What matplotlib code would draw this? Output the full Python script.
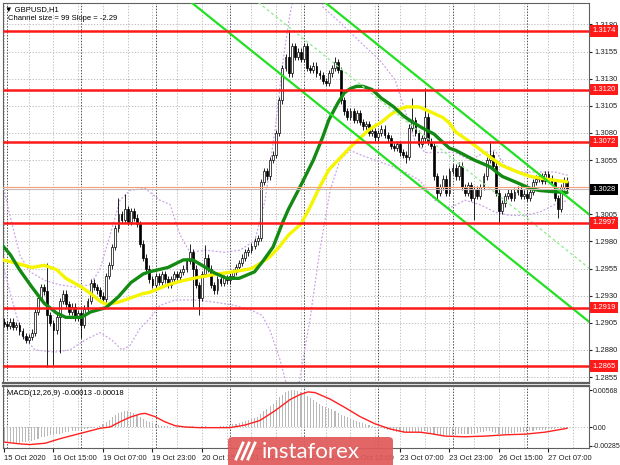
import numpy as np
import matplotlib.pyplot as plt
import matplotlib.transforms as mtransforms
from matplotlib.patches import FancyBboxPatch

plt.rcParams['font.family'] = ['Liberation Sans', 'DejaVu Sans']

# GBPUSD H1 closes, first bar 15 Oct 23:00, last bar 27 Oct 13:00
closes = [
    1.2904, 1.2902, 1.2906, 1.2901, 1.2903, 1.2897, 1.2893, 1.2889, 1.2892, 1.2896,
    1.2915, 1.2928, 1.2938, 1.2934, 1.2912, 1.2905, 1.2898, 1.2910, 1.2925, 1.2932,
    1.2922, 1.2915, 1.2920, 1.2910, 1.2914, 1.2903, 1.2918, 1.2925, 1.2942, 1.2938,
    1.2935, 1.2930, 1.2927, 1.2948, 1.2958, 1.2975, 1.2992, 1.3005, 1.3000, 1.3010,
    1.2998, 1.3008, 1.3002, 1.2996, 1.2978, 1.2965, 1.2955, 1.2945, 1.2940, 1.2948,
    1.2943, 1.2950, 1.2945, 1.2940, 1.2945, 1.2950, 1.2947, 1.2952, 1.2955, 1.2962,
    1.2970, 1.2955, 1.2940, 1.2928, 1.2950, 1.2965, 1.2955, 1.2940, 1.2935, 1.2945,
    1.2942, 1.2946, 1.2944, 1.2948, 1.2952, 1.2956, 1.2960, 1.2965, 1.2970, 1.2972,
    1.2976, 1.2980, 1.2983, 1.3035, 1.3045, 1.3040, 1.3055, 1.3060, 1.3080, 1.3110,
    1.3140, 1.3150, 1.3135, 1.3160, 1.3150, 1.3155, 1.3148, 1.3160, 1.3140, 1.3138,
    1.3142, 1.3135, 1.3133, 1.3128, 1.3126, 1.3135, 1.3140, 1.3145, 1.3138, 1.3110,
    1.3100, 1.3095, 1.3100, 1.3092, 1.3098, 1.3090, 1.3086, 1.3088, 1.3080, 1.3082,
    1.3076, 1.3080, 1.3084, 1.3078, 1.3075, 1.3068, 1.3066, 1.3070, 1.3062, 1.3060,
    1.3058, 1.3085, 1.3092, 1.3080, 1.3070, 1.3075, 1.3095, 1.3072, 1.3068, 1.3040,
    1.3025, 1.3030, 1.3038, 1.3025, 1.3045, 1.3048, 1.3040, 1.3050, 1.3030, 1.3025,
    1.3032, 1.3020, 1.3028, 1.3022, 1.3030, 1.3040, 1.3055, 1.3060, 1.3050, 1.3025,
    1.3008, 1.3015, 1.3022, 1.3025, 1.3020, 1.3026, 1.3028, 1.3022, 1.3024, 1.3020,
    1.3026, 1.3035, 1.3038, 1.3040, 1.3036, 1.3042, 1.3038, 1.3035, 1.3020, 1.3010,
    1.3030, 1.3036, 1.3028,
]
# long shadows: bar -> (high, low), None = short shadow
shadows = {
    14: (1.2960, 1.2864), 16: (None, 1.2866), 18: (None, 1.2877), 25: (None, 1.2891),
    37: (1.3020, None), 39: (1.3024, None), 60: (1.2978, None), 61: (None, 1.2920),
    63: (None, 1.2912), 65: (1.2977, None), 83: (None, 1.2980), 92: (1.3175, None),
    107: (1.3150, None), 130: (None, 1.3052), 132: (1.3112, None), 136: (1.3121, None),
    140: (None, 1.3018), 152: (None, 1.3000), 157: (1.3073, None), 160: (None, 1.2998),
    179: (None, 1.3002),
}

ma_fast = [(-0.4, 1.2976), (2, 1.2968), (5, 1.2954), (9, 1.2938), (13, 1.2923), (17, 1.2914),
           (20, 1.2910), (25, 1.2910), (28, 1.2915), (33, 1.2919), (37, 1.2929), (41, 1.2942),
           (45, 1.2950), (47, 1.2952), (53, 1.2956), (58, 1.2963), (61, 1.2963), (64, 1.2958),
           (68, 1.2951), (72, 1.2946), (76, 1.2946), (81, 1.2952), (84, 1.2963), (87, 1.2975),
           (90, 1.2997), (92, 1.3010), (96, 1.3032), (100, 1.3055), (103, 1.3076), (105, 1.3092),
           (108, 1.3108), (110, 1.3117), (112, 1.3121), (114, 1.3123), (116, 1.3123), (119, 1.3120),
           (122, 1.3112), (126, 1.3104), (129, 1.3096), (132, 1.3090), (135, 1.3085), (139, 1.3079),
           (142, 1.3071), (144, 1.3066), (146, 1.3064), (152, 1.3055), (157, 1.3049), (161, 1.3040),
           (166, 1.3034), (170, 1.3029), (173, 1.3027), (177, 1.3026), (182, 1.3025)]
ma_slow = [(-0.4, 1.2963), (4, 1.2960), (9, 1.2956), (13, 1.2958), (17, 1.2954), (20, 1.2946),
           (25, 1.2938), (28, 1.2932), (31, 1.2925), (33, 1.2922), (37, 1.2924), (41, 1.2928),
           (45, 1.2932), (47, 1.2933), (53, 1.2940), (58, 1.2944), (63, 1.2947), (69, 1.2950),
           (74, 1.2952), (80, 1.2955), (83, 1.2960), (86, 1.2966), (89, 1.2975), (92, 1.2986),
           (96, 1.2996), (99, 1.3012), (102, 1.3030), (105, 1.3046), (109, 1.3058), (112, 1.3067),
           (115, 1.3075), (118, 1.3083), (122, 1.3090), (125, 1.3097), (128, 1.3102), (130, 1.3104),
           (134, 1.3104), (135, 1.3103), (139, 1.3098), (142, 1.3094), (144, 1.3089), (146, 1.3081),
           (152, 1.3069), (157, 1.3058), (161, 1.3050), (166, 1.3044), (170, 1.3040), (174, 1.3038),
           (179, 1.3036), (182, 1.3035)]

band_up = [[(-0.3, 1.3032), (1.9, 1.3004), (5.2, 1.2967), (8.4, 1.2952), (13.3, 1.2944), (18.1, 1.2940),
            (22.9, 1.2938), (27.8, 1.2940), (31, 1.2954), (34.3, 1.2986), (37.5, 1.3018), (40.7, 1.3027),
            (45.6, 1.3029), (50.4, 1.3018), (53.7, 1.3014), (56.9, 1.2986), (60.1, 1.2970), (65, 1.2972),
            (71.4, 1.2970), (76.3, 1.2972), (81.1, 1.2981), (84.4, 1.3018), (87.6, 1.3083), (90.2, 1.3147),
            (92.4, 1.3189), (94.1, 1.3212)],
           [(102.1, 1.3212), (103.1, 1.3196), (108.6, 1.3182), (115.1, 1.3164), (121.5, 1.3147),
            (126.4, 1.3129), (129.6, 1.3101), (132.8, 1.3073), (136.1, 1.3062), (140.9, 1.3062),
            (145.8, 1.3062), (150.6, 1.3055), (155.5, 1.3062), (158.7, 1.3064), (161.9, 1.3050),
            (166.8, 1.3044), (173.2, 1.3044), (178, 1.3044), (182.3, 1.3041)]]
band_dn = [[(-0.3, 1.2958), (2.6, 1.2926), (5.8, 1.2894), (10, 1.2880), (16.5, 1.2878), (21.3, 1.2880),
            (26.2, 1.2889), (31, 1.2896), (34.9, 1.2889), (38.1, 1.2880), (40.7, 1.2884), (44, 1.2900),
            (47.2, 1.2909), (50.4, 1.2921), (55.3, 1.2926), (61.7, 1.2926), (68.2, 1.2924), (74.7, 1.2921),
            (79.5, 1.2917), (83.4, 1.2912), (86, 1.2898), (89.2, 1.2871), (91.8, 1.2843)],
           [(95, 1.2843), (98.9, 1.2908), (102.1, 1.2972), (105.4, 1.3027), (108.6, 1.3055),
            (111.8, 1.3064), (115.1, 1.3060), (119.9, 1.3055), (124.8, 1.3050), (129.6, 1.3044),
            (134.5, 1.3036), (139.3, 1.3018), (144.2, 1.3011), (149, 1.3018), (153.8, 1.3014),
            (158.7, 1.3007), (163.5, 1.3004), (168.4, 1.3004), (173.2, 1.3007), (178, 1.3014),
            (182.3, 1.3018)]]

levels = [1.3174, 1.3120, 1.3072, 1.2997, 1.2919, 1.2865]
bid = 1.3028
ask = 1.3030

chan_size = 99        # pips
chan_slope = -2.29    # pips per bar
chan_upper_end = 1.3005  # upper line at right edge

macd_hist = [
    -0.0022, -0.0023, -0.0023, -0.0024, -0.0024, -0.0024, -0.0023, -0.0023, -0.0022, -0.0021,
    -0.0020, -0.0018, -0.0016, -0.0015, -0.0014, -0.0013, -0.0012, -0.0011, -0.0010, -0.0009,
    -0.0008, -0.0007, -0.0006, -0.0006, -0.0005, -0.0004, -0.0003, -0.0003, -0.0002, -0.0001,
    0.0000, 0.0002, 0.0004, 0.0007, 0.0011, 0.0015, 0.0018, 0.0021, 0.0023, 0.0024,
    0.0024, 0.0023, 0.0021, 0.0019, 0.0016, 0.0013, 0.0010, 0.0008, 0.0006, 0.0004,
    0.0003, 0.0002, 0.0001, 0.0001, 0.0000, 0.0000, 0.0000, 0.0001, 0.0001, 0.0002,
    0.0002, 0.0001, 0.0000, 0.0000, 0.0001, 0.0001, 0.0000, 0.0000, 0.0000, 0.0000,
    0.0001, 0.0001, 0.0002, 0.0003, 0.0004, 0.0005, 0.0006, 0.0008, 0.0009, 0.0011,
    0.0012, 0.0014, 0.0016, 0.0020, 0.0024, 0.0028, 0.0032, 0.0036, 0.0041, 0.0046,
    0.0050, 0.0054, 0.0056, 0.0057, 0.0057, 0.0056, 0.0054, 0.0051, 0.0048, 0.0045,
    0.0042, 0.0039, 0.0036, 0.0033, 0.0031, 0.0029, 0.0027, 0.0025, 0.0022, 0.0019,
    0.0017, 0.0015, 0.0013, 0.0011, 0.0009, 0.0008, 0.0006, 0.0005, 0.0003, 0.0002,
    0.0000, -0.0001, -0.0002, -0.0003, -0.0004, -0.0005, -0.0006, -0.0007, -0.0008, -0.0009,
    -0.0008, -0.0007, -0.0007, -0.0008, -0.0008, -0.0007, -0.0006, -0.0008, -0.0010, -0.0012,
    -0.0013, -0.0014, -0.0014, -0.0013, -0.0013, -0.0012, -0.0012, -0.0011, -0.0011, -0.0011,
    -0.0010, -0.0010, -0.0010, -0.0009, -0.0008, -0.0007, -0.0006, -0.0006, -0.0007, -0.0009,
    -0.0010, -0.0010, -0.0010, -0.0010, -0.0009, -0.0009, -0.0008, -0.0008, -0.0007, -0.0007,
    -0.0006, -0.0006, -0.0005, -0.0005, -0.0004, -0.0004, -0.0003, -0.0003, -0.0003, -0.0002,
    -0.0002, -0.0001, -0.0001,
]
macd_signal = [(-0.3, -0.0023), (5.2, -0.0026), (8.4, -0.0027), (13.3, -0.0025), (18.1, -0.0018),
               (22.9, -0.0012), (26.2, -0.0008), (31, -0.0002), (34.3, 0.0000), (37.5, 0.0008),
               (40.7, 0.0015), (44, 0.0020), (45.6, 0.0021), (48.8, 0.0016), (52, 0.0008),
               (55.3, 0.0002), (58.5, 0.0000), (63.3, -0.0001), (69.8, -0.0001), (73, -0.0001),
               (77.9, 0.0003), (82.7, 0.0010), (87.6, 0.0025), (92.4, 0.0042), (95.7, 0.0050),
               (98.3, 0.0054), (100.5, 0.0053), (105.4, 0.0043), (110.2, 0.0030), (115.1, 0.0016),
               (119.9, 0.0005), (124.8, -0.0003), (129.6, -0.0008), (134.5, -0.0008), (137.7, -0.0010),
               (142.5, -0.0014), (149, -0.0015), (155.5, -0.0014), (161.9, -0.0012), (168.4, -0.0011),
               (174.8, -0.0008), (182, -0.0002)]

date_bars = [0, 16, 32, 48, 64, 80, 96, 112, 128, 144, 160, 176]
date_labels = ["15 Oct 2020", "16 Oct 15:00", "19 Oct 07:00", "19 Oct 23:00", "20 Oct 15:00",
               "21 Oct 07:00", "21 Oct 23:00", "22 Oct 15:00", "23 Oct 07:00", "23 Oct 23:00",
               "26 Oct 15:00", "27 Oct 07:00"]
day_starts = [1, 25, 49, 73, 97, 121, 145, 169]

W, H = 620, 465
fig = plt.figure(figsize=(W / 100, H / 100), dpi=100)
ax = fig.add_axes([3 / W, 1 - 383 / H, 586 / W, 380 / H])
ax2 = fig.add_axes([3 / W, 1 - 448 / H, 586 / W, 62 / H])

x0, x1 = -0.32, 189.1
for a in (ax, ax2):
    a.set_xlim(x0, x1)
    for b in range(0, 190, 8):
        a.axvline(b, color='#b4b4b4', ls=(0, (1.5, 2)), lw=0.6, zorder=0)
    for b in day_starts:
        a.axvline(b, color='#505050', ls=(0, (1.5, 1.5)), lw=0.7, zorder=0)
    for s in a.spines.values():
        s.set_color('#606060')
ax.set_ylim(1.28495, 1.31998)
ax2.set_ylim(-0.00323, 0.00631)

yt = np.arange(1.2855, 1.31801, 0.0025)
ax.yaxis.tick_right()
ax.set_yticks(yt)
# 1.3030 sits under the current price box
ax.set_yticklabels(['' if abs(v - bid) < 0.0005 else f'{v:.4f}' for v in yt])
ax.set_xticks([])
for v in yt:
    ax.axhline(v, color='#b4b4b4', ls=(0, (1.5, 2)), lw=0.6, zorder=0)
ax.tick_params(axis='y', labelsize=5.5, length=2, pad=2, colors='#202020')
ax.spines['bottom'].set_linewidth(1.6)
ax2.spines['top'].set_linewidth(1.6)

# bollinger bands
for seg in band_up + band_dn:
    bx, by = zip(*seg)
    ax.plot(bx, by, color='#c9a3e6', lw=0.9, ls=(0, (1.5, 1.5)), zorder=1)

# candles
for i, c in enumerate(closes):
    o = closes[i - 1] if i > 0 else c + 0.0002
    hi, lo = max(o, c) + 0.0003, min(o, c) - 0.0003
    if i in shadows:
        h2, l2 = shadows[i]
        hi = h2 if h2 else hi
        lo = l2 if l2 else lo
    ax.vlines(i, lo, hi, color='black', lw=0.6, zorder=2)
    body = c - o if abs(c - o) > 0.00005 else 0.00005
    ax.bar(i, body, bottom=o, width=0.6, facecolor='white' if c >= o else 'black',
           edgecolor='black', lw=0.5, zorder=2.1)

# moving averages
fx, fy = zip(*ma_fast)
sx, sy = zip(*ma_slow)
ax.plot(sx, sy, color='#f5f500', lw=2.4, zorder=3, solid_capstyle='round')
ax.plot(fx, fy, color='#138a13', lw=2.4, zorder=3.1, solid_capstyle='round')

# regression channel
cx = np.array([x0, x1])
upper = chan_upper_end + (cx - x1) * chan_slope * 0.0001
ax.plot(cx, upper, color='#22e022', lw=1.6, zorder=4)
ax.plot(cx, upper - chan_size * 0.0001, color='#22e022', lw=1.6, zorder=4)
ax.plot(cx, upper - chan_size * 0.00005, color='#90ee90', lw=1.0, ls=(0, (2, 2)), zorder=4)

# price lines
ax.axhline(ask, color='#f5a07a', lw=0.8, zorder=4.5)
ax.axhline(bid, color='#cbb8b8', lw=0.8, zorder=4.5)
for lv in levels:
    ax.axhline(lv, color='#ff1a1a', lw=1.8, zorder=5)

tr = mtransforms.blended_transform_factory(ax.transAxes, ax.transData)
for lv in levels:
    ax.text(1.006, lv, f'{lv:.4f}', transform=tr, fontsize=5.5, color='white', va='center', ha='left',
            clip_on=False, zorder=10, bbox=dict(boxstyle='square,pad=0.3', fc='#ff1a1a', ec='none'))
ax.text(1.006, bid, f'{bid:.4f}', transform=tr, fontsize=5.5, color='white', va='center', ha='left',
        clip_on=False, zorder=10, bbox=dict(boxstyle='square,pad=0.3', fc='black', ec='none'))

ax.text(0.004, 0.993, '\u25BC GBPUSD,H1', transform=ax.transAxes, fontsize=5.5, va='top', ha='left')
ax.text(0.008, 0.968, f'Channel size = {chan_size} Slope = {chan_slope:.2f}', transform=ax.transAxes,
        fontsize=5.5, va='top', ha='left')

# MACD
ax2.bar(np.arange(len(macd_hist)), macd_hist, width=0.35, color='#b8b8b8', zorder=1)
mx, my = zip(*macd_signal)
ax2.plot(mx, my, color='#ff2020', lw=1.0, zorder=2)
ax2.axhline(0, color='#b4b4b4', ls=(0, (1.5, 2)), lw=0.6, zorder=0)
ax2.yaxis.tick_right()
ax2.set_yticks([0.00568, 0.0, -0.00285])
ax2.set_yticklabels(['0.00568', '0.00', '-0.00285'])
ax2.tick_params(axis='y', labelsize=5, length=2, pad=1, colors='#202020')
ax2.set_xticks(date_bars)
ax2.set_xticklabels(date_labels, ha='left')
ax2.tick_params(axis='x', labelsize=5.5, length=3, pad=2, colors='#202020')
ax2.text(0.006, 0.93, 'MACD(12,26,9) -0.00013 -0.00018', transform=ax2.transAxes, fontsize=5.5,
         va='top', ha='left')

# watermark
fig.patches.append(FancyBboxPatch((228 / W, -0.03), 165 / W, 28 / H + 0.03,
                                  boxstyle='round,pad=0,rounding_size=0.008',
                                  transform=fig.transFigure, fc='#e05a5a', ec='none', alpha=0.93,
                                  zorder=20))
for k in range(3):
    fig.lines.append(plt.Line2D([(236 + 6 * k) / W, (243 + 6 * k) / W], [6 / H, 22 / H],
                                transform=fig.transFigure, color='white', lw=2, zorder=21))
fig.text(262 / W, 13 / H, 'instaforex', color='white', fontsize=16, family='Lato',
         va='center', ha='left', zorder=22)

fig.savefig('out.png', dpi=100)
